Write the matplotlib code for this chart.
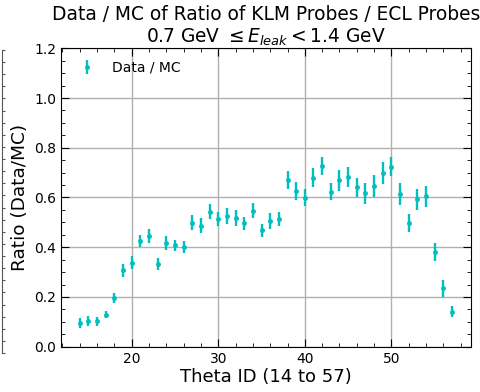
import numpy as np
import matplotlib
matplotlib.use("Agg")
import matplotlib.pyplot as plt
from matplotlib.ticker import MultipleLocator

# data / mc ratio per theta id
theta_id = np.arange(14, 58)
ratio = [0.094, 0.103, 0.103, 0.129, 0.195, 0.307, 0.338, 0.424, 0.445, 0.331,
         0.416, 0.408, 0.402, 0.499, 0.486, 0.543, 0.513, 0.526, 0.517, 0.496,
         0.547, 0.468, 0.505, 0.513, 0.669, 0.625, 0.599, 0.680, 0.727, 0.624,
         0.669, 0.684, 0.641, 0.617, 0.646, 0.697, 0.724, 0.614, 0.497, 0.593,
         0.605, 0.382, 0.235, 0.141]
ratio_err = [0.020, 0.019, 0.018, 0.015, 0.019, 0.025, 0.027, 0.025, 0.028, 0.024,
             0.028, 0.023, 0.025, 0.031, 0.030, 0.029, 0.028, 0.031, 0.032, 0.027,
             0.030, 0.027, 0.031, 0.029, 0.036, 0.037, 0.035, 0.037, 0.037, 0.036,
             0.042, 0.040, 0.037, 0.042, 0.044, 0.044, 0.039, 0.044, 0.037, 0.042,
             0.043, 0.037, 0.034, 0.021]

fig = plt.figure(figsize=(4.8, 3.92), dpi=100)
ax = fig.add_axes([61 / 480, 1 - 346.7 / 392, 409.7 / 480, 298.4 / 392])

ax.errorbar(theta_id, ratio, yerr=ratio_err, fmt="o", color="c",
            markersize=2.5, elinewidth=1.7, capsize=0, label="Data / MC")

ax.set_ylim(0, 1.2)
ax.set_xlim(11.85, 59.15)
ax.xaxis.set_major_locator(MultipleLocator(10))
ax.xaxis.set_minor_locator(MultipleLocator(2))
ax.yaxis.set_major_locator(MultipleLocator(0.2))
ax.yaxis.set_minor_locator(MultipleLocator(0.05))
ax.tick_params(which="both", direction="in", top=True, right=True, labelsize=10)
ax.tick_params(which="major", length=6)
ax.tick_params(which="minor", length=3)
ax.grid(True, which="major", color="#b0b0b0", linewidth=1)

ax.set_xlabel("Theta ID (14 to 57)", fontsize=13, labelpad=2)
ax.set_ylabel("Ratio (Data/MC)", fontsize=13.3)
ax.set_title("Data / MC of Ratio of KLM Probes / ECL Probes\n"
             r"0.7 GeV $\leq E_{leak} < 1.4$ GeV", fontsize=13.4, pad=3)

ax.legend(loc="upper left", frameon=False, fontsize=10)

# stray axis edge at the far left
edge = fig.add_axes([1.5 / 480, 1 - 353 / 392, 0.002, 303 / 392])
for s in ["top", "right", "bottom"]:
    edge.spines[s].set_visible(False)
edge.spines["left"].set_color("#555555")
edge.set_xticks([])
edge.set_ylim(0, 25)
edge.set_yticks(np.arange(0, 26))
edge.set_yticklabels([])
edge.tick_params(axis="y", direction="in", length=2, color="#555555")
edge.patch.set_visible(False)

fig.savefig("out.png", dpi=100)
